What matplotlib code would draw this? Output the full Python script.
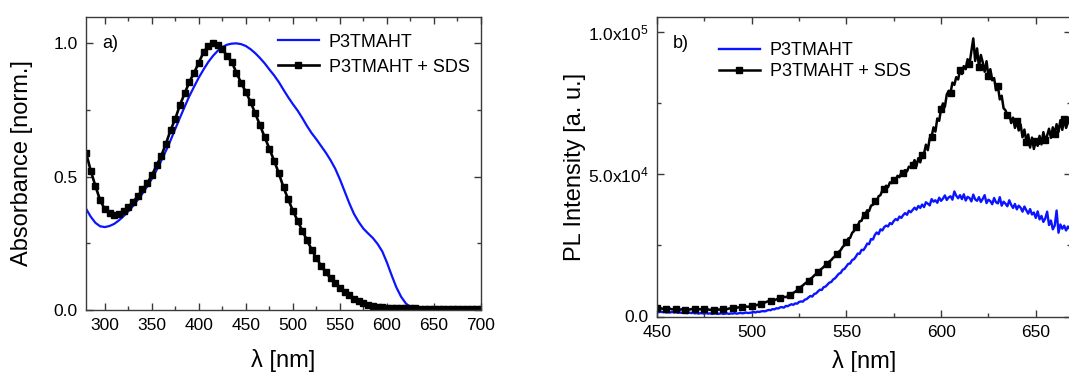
import numpy as np
import matplotlib
matplotlib.use("Agg")
import matplotlib.pyplot as plt
from matplotlib.ticker import MultipleLocator, FuncFormatter

plt.rcParams["font.family"] = ["Liberation Sans", "DejaVu Sans"]
plt.rcParams["mathtext.fontset"] = "custom"
plt.rcParams["mathtext.rm"] = "Liberation Sans"
plt.rcParams["mathtext.it"] = "Liberation Sans"

BLUE = "#0a14ff"
SPINE = "#3a3a3a"

# --- a) absorbance, 5 nm grid ---
wl_abs = np.arange(280, 705, 5)
abs_pure = [0.38, 0.35, 0.327, 0.314, 0.311, 0.315, 0.323, 0.336, 0.352, 0.37,
            0.39, 0.413, 0.437, 0.463, 0.492, 0.524, 0.56, 0.597, 0.637, 0.68,
            0.722, 0.763, 0.803, 0.838, 0.872, 0.902, 0.93, 0.953, 0.972, 0.986,
            0.995, 0.999, 1.0, 0.997, 0.99, 0.978, 0.963, 0.945, 0.925, 0.902,
            0.88, 0.855, 0.826, 0.798, 0.772, 0.748, 0.72, 0.69, 0.663, 0.64,
            0.615, 0.59, 0.562, 0.53, 0.49, 0.445, 0.4, 0.36, 0.33, 0.305,
            0.287, 0.27, 0.248, 0.22, 0.178, 0.13, 0.085, 0.05, 0.025, 0.01,
            0.003, 0.001, 0.0, 0.0, 0.0, 0.0, 0.0, 0.001, 0.001, 0.001,
            0.001, 0.001, 0.001, 0.001, 0.001]
abs_sds = [0.59, 0.523, 0.465, 0.412, 0.378, 0.362, 0.357, 0.361, 0.372, 0.387,
           0.405, 0.426, 0.452, 0.475, 0.505, 0.542, 0.578, 0.624, 0.675, 0.718,
           0.770, 0.813, 0.856, 0.890, 0.928, 0.967, 0.990, 1.0, 0.994, 0.977,
           0.954, 0.93, 0.89, 0.851, 0.818, 0.78, 0.737, 0.693, 0.648, 0.605,
           0.56, 0.513, 0.46, 0.415, 0.372, 0.335, 0.297, 0.262, 0.226, 0.194,
           0.166, 0.141, 0.119, 0.1, 0.083, 0.068, 0.055, 0.043, 0.034, 0.026,
           0.02, 0.015, 0.012, 0.01, 0.009, 0.008, 0.007, 0.007, 0.006, 0.006,
           0.006, 0.005, 0.005, 0.005, 0.005, 0.005, 0.004, 0.004, 0.004, 0.004,
           0.004, 0.004, 0.004, 0.004, 0.004]

# --- b) PL, 1 nm grid, values in units of 1e3 ---
wl_pl = np.arange(450, 671, 1)
pl_pure = [1.6, 1.5, 1.7, 1.5, 1.6, 1.4, 1.5, 1.4, 1.6, 1.4,
           1.5, 1.3, 1.4, 1.3, 1.5, 1.3, 1.2, 1.4, 1.2, 1.3,
           1.1, 1.2, 1.0, 1.2, 1.1, 1.0, 1.2, 1.0, 1.1, 0.9,
           1.0, 1.1, 0.9, 1.0, 1.1, 0.9, 1.0, 1.1, 0.9, 1.1,
           1.0, 1.2, 1.0, 1.1, 1.3, 1.1, 1.2, 1.4, 1.2, 1.3,
           1.4, 1.6, 1.4, 1.7, 1.6, 1.8, 1.9, 1.8, 2.1, 2.3,
           2.2, 2.6, 2.5, 2.9, 2.8, 3.2, 3.3, 3.1, 3.7, 3.6,
           4.0, 4.3, 4.1, 4.6, 4.5, 5.1, 5.3, 5.2, 5.9, 6.1,
           6.7, 7.2, 7.0, 7.9, 8.1, 8.8, 9.4, 9.3, 10.3, 10.5,
           11.2, 11.9, 12.1, 13.0, 13.4, 14.2, 15.0, 15.3, 16.4, 16.7,
           17.6, 18.5, 18.6, 19.8, 20.1, 21.0, 22.1, 22.0, 23.4, 23.3,
           24.3, 25.6, 25.4, 27.2, 27.0, 28.6, 29.5, 28.9, 30.6, 30.2,
           31.4, 31.9, 31.6, 32.8, 32.4, 33.5, 34.2, 33.8, 35.1, 34.6,
           35.6, 36.3, 35.7, 37.1, 36.6, 37.4, 38.2, 37.5, 38.8, 38.1,
           39.3, 38.4, 40.1, 39.6, 39.0, 41.2, 40.3, 40.8, 39.9, 41.7,
           40.6, 41.4, 42.5, 40.9, 41.8, 42.2, 41.0, 43.9, 42.4, 41.5,
           42.6, 41.2, 42.9, 40.7, 42.0, 41.6, 40.4, 42.8, 41.1, 40.6,
           41.9, 40.2, 41.3, 42.6, 39.8, 41.0, 40.5, 39.4, 41.6, 40.1,
           39.7, 41.9, 38.9, 40.3, 39.6, 38.7, 40.8, 39.2, 38.1, 39.5,
           37.6, 38.9, 38.2, 36.8, 38.6, 37.3, 36.1, 37.7, 35.8, 36.5,
           34.6, 36.9, 34.1, 35.3, 33.2, 34.4, 36.8, 32.1, 33.7, 30.6,
           31.9, 37.2, 29.4, 32.3, 30.8, 31.9, 30.2, 31.6, 30.7, 31.8,
           30.9]
pl_sds = [2.9, 2.8, 2.9, 2.7, 2.8, 2.7, 2.6, 2.7, 2.5, 2.6,
          2.5, 2.6, 2.4, 2.5, 2.5, 2.4, 2.5, 2.4, 2.6, 2.5,
          2.5, 2.4, 2.6, 2.5, 2.6, 2.6, 2.4, 2.5, 2.3, 2.5,
          2.4, 2.3, 2.5, 2.4, 2.6, 2.5, 2.7, 2.6, 2.8, 2.9,
          3.0, 2.9, 3.1, 3.2, 3.1, 3.3, 3.4, 3.5, 3.4, 3.6,
          3.8, 3.7, 3.9, 4.1, 4.0, 4.3, 4.6, 4.9, 5.2, 5.4,
          5.6, 5.8, 5.7, 6.0, 6.3, 6.4, 6.6, 6.9, 6.8, 7.1,
          7.4, 7.8, 8.3, 8.7, 9.2, 9.7, 10.4, 10.9, 11.5, 12.0,
          12.6, 13.2, 13.7, 14.4, 14.9, 15.5, 16.3, 16.8, 17.4, 18.1,
          18.6, 19.3, 19.8, 20.6, 21.1, 21.8, 22.7, 23.3, 24.4, 25.0,
          26.0, 27.4, 27.6, 29.3, 30.0, 31.5, 31.9, 33.4, 33.6, 35.4,
          35.8, 37.3, 37.0, 38.9, 39.2, 40.6, 40.3, 42.2, 42.6, 44.3,
          44.6, 45.9, 45.4, 47.1, 46.8, 48.0, 47.6, 49.4, 48.9, 50.4,
          50.2, 51.4, 50.9, 52.6, 52.3, 53.2, 54.9, 52.8, 55.6, 54.1,
          56.8, 57.2, 60.3, 58.4, 62.6, 63.1, 66.4, 64.9, 69.5, 68.7,
          72.9, 74.8, 73.6, 77.9, 79.2, 78.6, 82.1, 81.3, 84.0, 83.2,
          86.4, 85.1, 87.9, 86.8, 90.3, 88.6, 93.2, 97.6, 89.7, 94.1,
          87.6, 91.8, 89.2, 85.9, 89.6, 84.3, 86.8, 82.9, 83.7, 79.4,
          80.8, 76.2, 77.5, 73.1, 72.4, 70.6, 71.3, 67.9, 69.8, 66.2,
          68.5, 65.3, 67.4, 62.9, 65.6, 61.4, 63.9, 59.3, 62.8, 58.8,
          61.6, 59.9, 63.4, 60.4, 64.7, 61.8, 63.5, 65.9, 62.7, 66.4,
          64.1, 67.5, 64.8, 68.9, 65.5, 69.4, 66.2, 68.1, 70.2, 67.3,
          68.4]

W, H = 1069, 372
fig = plt.figure(figsize=(W / 100, H / 100), dpi=100)
ax1 = fig.add_axes([86 / W, (H - 310) / H, (481 - 86) / W, (310 - 16.7) / H])
ax2 = fig.add_axes([657 / W, (H - 316.5) / H, (1071 - 657) / W, (316.5 - 16.5) / H])


def style(ax):
    for s in ax.spines.values():
        s.set_color(SPINE)
        s.set_linewidth(1.0)
    ax.tick_params(which="both", direction="in", top=True, right=True,
                   colors=SPINE, labelcolor="black", labelsize=12.5, pad=6)
    ax.tick_params(which="major", length=5, width=1)
    ax.tick_params(which="minor", length=3, width=1)


# a)
ax1.plot(wl_abs, abs_pure, color=BLUE, lw=1.6, label="P3TMAHT")
ax1.plot(wl_abs, abs_sds, color="black", lw=1.9, marker="s", ms=4.6,
         label="P3TMAHT + SDS")
ax1.set_xlim(280, 700)
ax1.set_ylim(0, 1.1)
ax1.xaxis.set_major_locator(MultipleLocator(50))
ax1.xaxis.set_minor_locator(MultipleLocator(25))
ax1.yaxis.set_major_locator(MultipleLocator(0.5))
ax1.yaxis.set_minor_locator(MultipleLocator(0.25))
style(ax1)
ax1.set_xlabel("λ [nm]", fontsize=17, labelpad=11)
ax1.set_ylabel("Absorbance [norm.]", fontsize=17, labelpad=15)
ax1.text(0.0405, 0.9376, "a)", transform=ax1.transAxes, fontsize=13, va="top")
ax1.legend(loc="upper left", bbox_to_anchor=(0.4587, 0.9795), frameon=False,
           fontsize=13, handlelength=2.25, handletextpad=0.55, labelspacing=0.45,
           borderaxespad=0.2)

# b)
ax2.plot(wl_pl, np.array(pl_pure) * 1e3, color=BLUE, lw=1.7, label="P3TMAHT")
ax2.plot(wl_pl, np.array(pl_sds) * 1e3, color="black", lw=1.8, marker="s",
         ms=4.6, markevery=5, label="P3TMAHT + SDS")
ax2.set_xlim(450, 668.6)
ax2.set_ylim(0, 1.053e5)
ax2.xaxis.set_major_locator(MultipleLocator(50))
ax2.xaxis.set_minor_locator(MultipleLocator(25))
ax2.yaxis.set_major_locator(MultipleLocator(5e4))
ax2.yaxis.set_minor_locator(MultipleLocator(2.5e4))


def sci(v, pos):
    if v <= 0:
        return "0.0"
    e = int(np.floor(np.log10(v)))
    return f"{v / 10**e:.1f}x10$^{{{e}}}$"


ax2.yaxis.set_major_formatter(FuncFormatter(sci))
style(ax2)
ax2.set_xlabel("λ [nm]", fontsize=17, labelpad=7)
ax2.set_ylabel("PL Intensity [a. u.]", fontsize=17, labelpad=1.5)
ax2.text(0.0386, 0.938, "b)", transform=ax2.transAxes, fontsize=13, va="top")
ax2.legend(loc="upper left", bbox_to_anchor=(0.1237, 0.9517), frameon=False,
           fontsize=13, handlelength=2.25, handletextpad=0.55, labelspacing=0.25,
           borderaxespad=0.2)

fig.savefig("out.png", dpi=100)
